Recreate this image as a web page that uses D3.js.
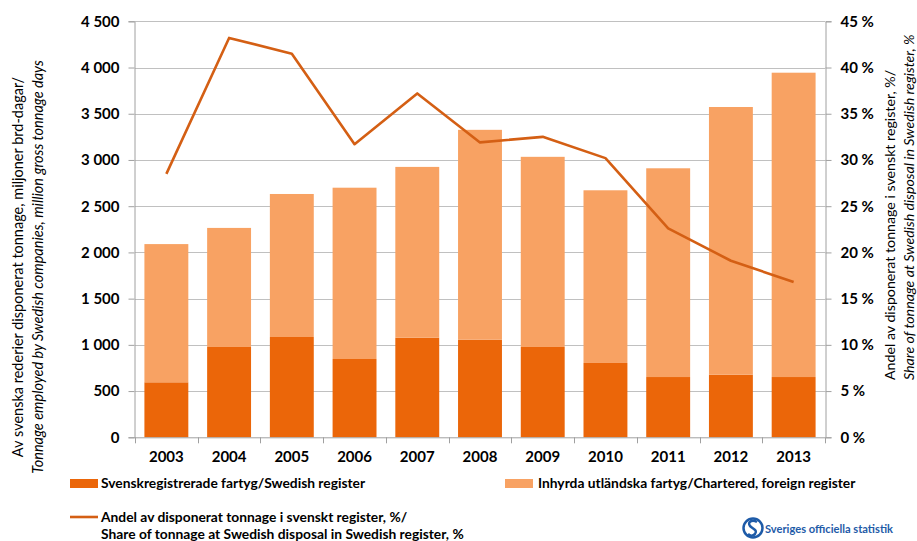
<!DOCTYPE html>
<html><head><meta charset="utf-8">
<script src="https://cdn.jsdelivr.net/npm/d3@7/dist/d3.min.js"></script>
<style>
body{margin:0;background:#fff;}
svg text{font-family:Lato,"Open Sans",sans-serif;fill:#000;}
</style></head>
<body><svg id="c" width="917" height="541"></svg>
<script>
const years = ["2003","2004","2005","2006","2007","2008","2009","2010","2011","2012","2013"];
const swedishRegister = [595, 977, 1085, 847, 1077, 1056, 977, 804, 652, 677, 652];
const foreignRegister = [1495, 1288, 1547, 1853, 1848, 2270, 2057, 1868, 2258, 2896, 3292];
const swedishShare = [28.5, 43.2, 41.5, 31.7, 37.2, 31.9, 32.5, 30.2, 22.6, 19.1, 16.8];
const leftTicks = [0,500,1000,1500,2000,2500,3000,3500,4000,4500];
const rightTicks = [0,5,10,15,20,25,30,35,40,45];
const seriesNames = ["Svenskregistrerade fartyg/Swedish register","Inhyrda utländska fartyg/Chartered, foreign register"];
const lineName = ["Andel av disponerat tonnage i svenskt register, %/","Share of tonnage at Swedish disposal in Swedish register, %"];
const leftTitle = ["Av svenska rederier disponerat tonnage, miljoner brd-dagar/","Tonnage employed by Swedish companies, million gross tonnage days"];
const rightTitle = ["Andel av disponerat tonnage i svenskt register, %/","Share of tonnage at Swedish disposal in Swedish register, %"];

const colDark="#EB6609", colLight="#F8A263", colLine="#D45F14", gridC="#c0c0c0", axisC="#a0a0a0";
const svg=d3.select("#c");
const L=135, R=825, T=21.3, B=437.3;
const x=d3.scaleBand().domain(years).range([L,R]).paddingInner(0.3).paddingOuter(0.15);
const y=d3.scaleLinear().domain([0,4500]).range([B,T]);
const y2=d3.scaleLinear().domain([0,45]).range([B,T]);
const fmt=d=>d3.format(",")(d).replace(/,/g," ");

// gridlines
svg.append("g").selectAll("line").data(leftTicks.slice(1)).join("line")
 .attr("x1",L).attr("x2",R).attr("y1",d=>Math.round(y(d))+0.5).attr("y2",d=>Math.round(y(d))+0.5)
 .attr("stroke",gridC).attr("stroke-width",1);

// stacked bars
const stackData=years.map((yr,i)=>({year:yr,s:swedishRegister[i],f:foreignRegister[i]}));
const stack=d3.stack().keys(["s","f"])(stackData);
const colors=[colDark,colLight];
svg.append("g").selectAll("g").data(stack).join("g").attr("fill",(d,i)=>colors[i])
 .selectAll("rect").data(d=>d).join("rect")
 .attr("x",d=>x(d.data.year)).attr("width",x.bandwidth())
 .attr("y",d=>y(d[1])).attr("height",d=>y(d[0])-y(d[1]));

// axes
const gl=svg.append("g").attr("transform",`translate(${L-0.5},0)`)
 .call(d3.axisLeft(y).tickValues(leftTicks).tickFormat(fmt).tickSize(6).tickPadding(9));
const gr=svg.append("g").attr("transform",`translate(${R+0.5},0)`)
 .call(d3.axisRight(y2).tickValues(rightTicks).tickFormat(d=>d+" %").tickSize(6).tickPadding(9));
const gb=svg.append("g").attr("transform",`translate(0,${B+0.5})`)
 .call(d3.axisBottom(x).tickSize(0).tickPadding(14));
[gl,gr,gb].forEach(g=>{
  g.select(".domain").attr("stroke",axisC);
  g.selectAll(".tick line").attr("stroke",axisC);
  g.selectAll("text").attr("font-family","Lato, sans-serif").attr("font-size",15).attr("font-weight","bold").attr("fill","#000");
});
gb.select(".domain").attr("d",`M${L},0H${R}`);
// category boundary ticks on bottom axis
svg.append("g").selectAll("line").data(d3.range(years.length+1)).join("line")
 .attr("x1",i=>Math.round(L+(R-L)/years.length*i)+0.5).attr("x2",i=>Math.round(L+(R-L)/years.length*i)+0.5)
 .attr("y1",B).attr("y2",B+6).attr("stroke",axisC);

// line
const line=d3.line().x((d,i)=>x(years[i])+x.bandwidth()/2).y(d=>y2(d));
svg.append("path").datum(swedishShare).attr("d",line).attr("fill","none")
 .attr("stroke",colLine).attr("stroke-width",2.6).attr("stroke-linejoin","round");

// axis titles
const lt=svg.append("text").attr("transform","translate(0,267) rotate(-90)").attr("text-anchor","middle").attr("font-size",14.5);
lt.append("tspan").attr("x",0).attr("y",23).text(leftTitle[0]);
lt.append("tspan").attr("x",0).attr("y",43).attr("font-style","italic").text(leftTitle[1]);
const rt=svg.append("text").attr("transform","translate(0,380) rotate(-90)").attr("text-anchor","start").attr("font-size",14.2);
rt.append("tspan").attr("x",0).attr("y",895).text(rightTitle[0]);
rt.append("tspan").attr("x",0).attr("y",914).attr("font-style","italic").text(rightTitle[1]);

// legend
const lg=svg.append("g").attr("font-size",13.8).attr("font-weight","bold");
lg.append("rect").attr("x",70).attr("y",479).attr("width",28).attr("height",9).attr("fill",colDark);
lg.append("text").attr("x",101).attr("y",488).text(seriesNames[0]);
lg.append("rect").attr("x",505).attr("y",479).attr("width",28).attr("height",9).attr("fill",colLight);
lg.append("text").attr("x",538).attr("y",488).text(seriesNames[1]);
lg.append("line").attr("x1",70).attr("x2",98).attr("y1",517).attr("y2",517).attr("stroke",colLine).attr("stroke-width",2.6);
lg.append("text").attr("x",101).attr("y",522).text(lineName[0]);
lg.append("text").attr("x",101).attr("y",539).text(lineName[1]);

// logo
const logo=svg.append("g");
logo.append("circle").attr("cx",753).attr("cy",528).attr("r",9.5).attr("fill","none").attr("stroke","#1E5BA8").attr("stroke-width",2.5);
logo.append("path").attr("d","M757,522 C752,519 747,522 750,526 C753,529 758,530 755,534 C752,537 749,535 748,534")
 .attr("fill","none").attr("stroke","#1E5BA8").attr("stroke-width",2.5);
logo.append("text").attr("x",765).attr("y",533).attr("font-size",12).attr("font-weight","bold")
 .attr("textLength",128).attr("lengthAdjust","spacingAndGlyphs")
 .style("fill","#1E5BA8").text("Sveriges officiella statistik");
</script></body></html>
